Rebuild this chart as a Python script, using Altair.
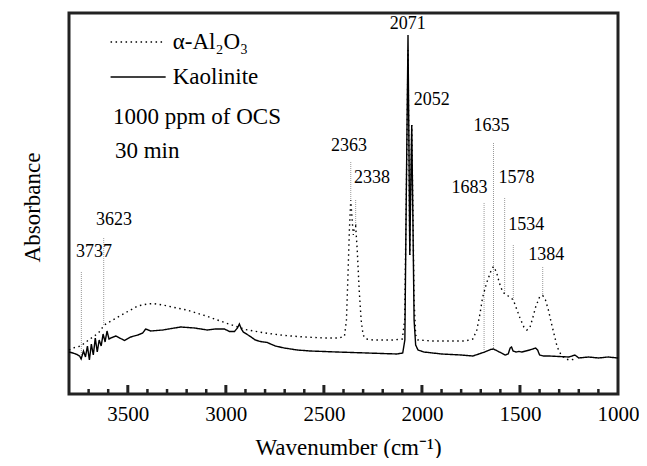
import altair as alt
import pandas as pd

# ---------------- data ----------------
series_names = ["α-Al₂O₃", "Kaolinite"]

kao_w = [3800, 3780, 3759, 3746, 3738, 3726, 3716, 3706, 3696, 3686, 3676, 3666, 3656, 3646,
         3636, 3626, 3616, 3606, 3596, 3587, 3561,
         3517, 3485, 3449, 3424, 3409, 3383, 3322, 3231, 3160, 3094, 3053, 3007, 2982, 2956,
         2941, 2931, 2921, 2911, 2875, 2850, 2824, 2789, 2748, 2702, 2636, 2570, 2433, 2281,
         2128, 2098, 2087, 2080, 2071, 2066, 2062, 2058, 2052, 2046, 2040, 2032, 2020, 1990,
         1900, 1800, 1740, 1710, 1680, 1650, 1635, 1615, 1595, 1575, 1560, 1550, 1543, 1535,
         1520, 1505, 1490, 1470, 1450, 1420, 1410, 1400, 1380, 1350, 1300, 1250, 1220, 1200,
         1150, 1100, 1050, 1000]
kao_a = [0.084, 0.082, 0.079, 0.076, 0.070, 0.086, 0.074, 0.096, 0.068, 0.100, 0.078, 0.112, 0.084, 0.108,
         0.096, 0.120, 0.104, 0.126, 0.110, 0.112, 0.116,
         0.107, 0.114, 0.118, 0.122, 0.130, 0.126, 0.128, 0.134, 0.132, 0.128, 0.130, 0.130, 0.125, 0.125,
         0.132, 0.140, 0.130, 0.124, 0.115, 0.108, 0.105, 0.103, 0.096, 0.092, 0.088, 0.086, 0.084, 0.082,
         0.080, 0.082, 0.108, 0.388, 0.718, 0.488, 0.278, 0.388, 0.538, 0.348, 0.148, 0.098, 0.088, 0.084,
         0.080, 0.078, 0.076, 0.080, 0.084, 0.089, 0.090, 0.086, 0.082, 0.078, 0.080, 0.092, 0.094, 0.086,
         0.084, 0.085, 0.084, 0.086, 0.088, 0.092, 0.088, 0.078, 0.076, 0.076, 0.075, 0.074, 0.078, 0.072,
         0.074, 0.072, 0.074, 0.072]

alu_w = [3800, 3780, 3740, 3700, 3650, 3620, 3560, 3500, 3450, 3400, 3370, 3320, 3250, 3200,
         3100, 3000, 2900, 2800, 2700, 2600, 2500, 2420, 2395, 2385, 2378, 2370, 2363, 2355,
         2350, 2345, 2338, 2330, 2320, 2310, 2300, 2285, 2250, 2150, 2100, 2088, 2080, 2071,
         2066, 2062, 2058, 2052, 2046, 2040, 2032, 2020, 1950, 1850, 1780, 1740, 1720, 1705,
         1690, 1670, 1650, 1635, 1620, 1605, 1590, 1578, 1560, 1545, 1534, 1515, 1500, 1480,
         1465, 1450, 1435, 1420, 1400, 1384, 1370, 1355, 1340, 1325, 1310, 1290, 1270, 1250,
         1230, 1215]
alu_a = [0.088, 0.092, 0.096, 0.108, 0.122, 0.138, 0.152, 0.165, 0.176, 0.180, 0.181, 0.178, 0.172, 0.168,
         0.156, 0.142, 0.129, 0.122, 0.117, 0.114, 0.112, 0.112, 0.116, 0.148, 0.228, 0.328, 0.388, 0.344,
         0.318, 0.332, 0.336, 0.288, 0.208, 0.148, 0.118, 0.110, 0.108, 0.108, 0.110, 0.148, 0.388, 0.688,
         0.468, 0.278, 0.378, 0.538, 0.368, 0.188, 0.118, 0.108, 0.106, 0.106, 0.106, 0.110, 0.128, 0.158,
         0.194, 0.222, 0.244, 0.255, 0.244, 0.222, 0.206, 0.200, 0.196, 0.192, 0.188, 0.168, 0.152, 0.134,
         0.128, 0.132, 0.152, 0.174, 0.194, 0.197, 0.188, 0.168, 0.142, 0.118, 0.094, 0.078, 0.071, 0.068,
         0.069, 0.074]

# peak labels
peak_text = ["3737", "3623", "2363", "2338", "2071", "2052", "1635", "1683", "1578", "1534", "1384"]
peak_label_w = [3673, 3571, 2372, 2255, 2072, 1950, 1645, 1757, 1518, 1468, 1366]
peak_label_a = [0.284, 0.348, 0.496, 0.432, 0.740, 0.588, 0.536, 0.412, 0.432, 0.338, 0.278]

# dotted guide lines from label to band
guide_w = [3737, 3623, 2363, 2338, 1683, 1635, 1578, 1534, 1384]
guide_top = [0.244, 0.312, 0.464, 0.388, 0.382, 0.502, 0.392, 0.298, 0.254]
guide_bottom = [0.072, 0.138, 0.388, 0.336, 0.088, 0.090, 0.200, 0.188, 0.196]

# legend (placed in data coordinates)
legend_w_start = [3588, 3588]
legend_w_end = [3322, 3307]
legend_text_w = [3271, 3271]
legend_a = [0.704, 0.634]

# notes
note_text = ["1000 ppm of OCS", "30 min"]
note_w = [3576, 3566]
note_a = [0.554, 0.486]

# axis ticks
major_ticks = [3500, 3000, 2500, 2000, 1500, 1000]
minor_ticks = [3700, 3600, 3400, 3300, 3200, 3100, 2900, 2800, 2700, 2600, 2400, 2300, 2200,
               2100, 1900, 1800, 1700, 1600, 1400, 1300, 1200, 1100]
x_min, x_max = 1000, 3800
y_min, y_max = 0.0, 0.762

# ---------------- chart ----------------
W, H = 549, 381
FONT = "Liberation Serif"
DASHES = [[1.5, 3.5], [1, 0]]
FRAME = "#222222"

spec_df = pd.concat([
    pd.DataFrame({"w": alu_w, "a": alu_a, "series": series_names[0]}),
    pd.DataFrame({"w": kao_w, "a": kao_a, "series": series_names[1]}),
])

xscale = alt.Scale(domain=[x_min, x_max], reverse=True, nice=False, zero=False)
yscale = alt.Scale(domain=[y_min, y_max], nice=False, zero=False)
dash_scale = alt.Scale(domain=series_names, range=DASHES)

lines = alt.Chart(spec_df).mark_line(strokeWidth=1.4, color="black").encode(
    x=alt.X("w:Q", scale=xscale,
            axis=alt.Axis(title="Wavenumber (cm⁻¹)", values=major_ticks, format="d",
                          ticks=False, domain=False, grid=False, labelFlush=False,
                          labelOverlap=False, labelPadding=20, labelBaseline="middle",
                          titleX=279, titleY=53, titleBaseline="middle", titleAlign="center")),
    y=alt.Y("a:Q", scale=yscale,
            axis=alt.Axis(title="Absorbance", labels=False, ticks=False, domain=False, grid=False,
                          titleX=-37, titleY=194, titleAngle=270, titleAlign="center",
                          titleBaseline="middle")),
    strokeDash=alt.StrokeDash("series:N", scale=dash_scale, legend=None),
)

minor = alt.Chart(pd.DataFrame({"w": minor_ticks})).mark_rule(color=FRAME, strokeWidth=2.5).encode(
    x=alt.X("w:Q", scale=xscale), y=alt.value(H), y2=alt.value(H - 5))
major = alt.Chart(pd.DataFrame({"w": major_ticks[:-1]})).mark_rule(color=FRAME, strokeWidth=3).encode(
    x=alt.X("w:Q", scale=xscale), y=alt.value(H), y2=alt.value(H - 9))

legend_df = pd.DataFrame({"w": legend_w_start, "w2": legend_w_end, "tw": legend_text_w,
                          "a": legend_a, "series": series_names})
legend_lines = alt.Chart(legend_df).mark_rule(strokeWidth=1.4, color="black").encode(
    x=alt.X("w:Q", scale=xscale), x2="w2:Q", y=alt.Y("a:Q", scale=yscale),
    strokeDash=alt.StrokeDash("series:N", scale=dash_scale, legend=None))
legend_text = alt.Chart(legend_df).mark_text(
    font=FONT, fontSize=23, color="black", align="left", baseline="middle").encode(
    x=alt.X("tw:Q", scale=xscale), y=alt.Y("a:Q", scale=yscale), text="series:N")

guides = alt.Chart(pd.DataFrame({"w": guide_w, "a": guide_top, "a2": guide_bottom})).mark_rule(
    color="#999999", strokeWidth=1, strokeDash=[1, 1]).encode(
    x=alt.X("w:Q", scale=xscale), y=alt.Y("a:Q", scale=yscale), y2="a2:Q")

peak_labels = alt.Chart(pd.DataFrame({"w": peak_label_w, "a": peak_label_a, "t": peak_text})).mark_text(
    font=FONT, fontSize=18, color="black", align="center", baseline="middle").encode(
    x=alt.X("w:Q", scale=xscale), y=alt.Y("a:Q", scale=yscale), text="t:N")

notes = alt.Chart(pd.DataFrame({"w": note_w, "a": note_a, "t": note_text})).mark_text(
    font=FONT, fontSize=23, color="black", align="left", baseline="middle").encode(
    x=alt.X("w:Q", scale=xscale), y=alt.Y("a:Q", scale=yscale), text="t:N")

chart = alt.layer(guides, lines, minor, major,
                  legend_lines, legend_text, peak_labels, notes).properties(
    width=W, height=H,
    background="white",
    autosize=alt.AutoSizeParams(type="none"),
    padding={"left": 61, "top": 5, "right": 21, "bottom": 64},
).configure_view(stroke=FRAME, strokeWidth=3).configure_axis(
    labelFont=FONT, labelFontSize=21, labelColor="black",
    titleFont=FONT, titleFontSize=23, titleColor="black", titleFontWeight="normal",
)

chart.save("out.html", embed_options={"renderer": "svg", "actions": False})
